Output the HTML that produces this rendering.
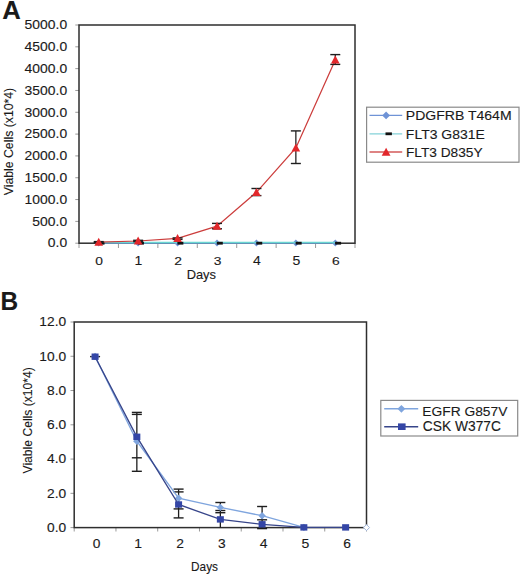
<!DOCTYPE html><html><head><meta charset="utf-8"><style>html,body{margin:0;padding:0;background:#fff;overflow:hidden}svg{display:block}text{font-family:"Liberation Sans", sans-serif;fill:#1a1a1a;stroke:#1a1a1a;stroke-width:0.12px}</style></head><body>
<svg width="520" height="574" viewBox="0 0 520 574">
<rect x="0" y="0" width="520" height="574" fill="#fff"/>
<text x="2.16" y="18.60" font-size="25.07" font-weight="bold" textLength="18.54" lengthAdjust="spacingAndGlyphs">A</text>
<text x="0.41" y="309.70" font-size="25.51" font-weight="bold" textLength="17.64" lengthAdjust="spacingAndGlyphs">B</text>
<line x1="75.3" y1="243.20" x2="79.0" y2="243.20" stroke="#9a9a9a" stroke-width="1"/>
<line x1="75.3" y1="221.38" x2="79.0" y2="221.38" stroke="#9a9a9a" stroke-width="1"/>
<line x1="75.3" y1="199.56" x2="79.0" y2="199.56" stroke="#9a9a9a" stroke-width="1"/>
<line x1="75.3" y1="177.74" x2="79.0" y2="177.74" stroke="#9a9a9a" stroke-width="1"/>
<line x1="75.3" y1="155.92" x2="79.0" y2="155.92" stroke="#9a9a9a" stroke-width="1"/>
<line x1="75.3" y1="134.10" x2="79.0" y2="134.10" stroke="#9a9a9a" stroke-width="1"/>
<line x1="75.3" y1="112.28" x2="79.0" y2="112.28" stroke="#9a9a9a" stroke-width="1"/>
<line x1="75.3" y1="90.46" x2="79.0" y2="90.46" stroke="#9a9a9a" stroke-width="1"/>
<line x1="75.3" y1="68.64" x2="79.0" y2="68.64" stroke="#9a9a9a" stroke-width="1"/>
<line x1="75.3" y1="46.82" x2="79.0" y2="46.82" stroke="#9a9a9a" stroke-width="1"/>
<line x1="75.3" y1="25.00" x2="79.0" y2="25.00" stroke="#9a9a9a" stroke-width="1"/>
<line x1="79.00" y1="243.2" x2="79.00" y2="248" stroke="#9a9a9a" stroke-width="1"/>
<line x1="118.43" y1="243.2" x2="118.43" y2="248" stroke="#9a9a9a" stroke-width="1"/>
<line x1="157.86" y1="243.2" x2="157.86" y2="248" stroke="#9a9a9a" stroke-width="1"/>
<line x1="197.29" y1="243.2" x2="197.29" y2="248" stroke="#9a9a9a" stroke-width="1"/>
<line x1="236.71" y1="243.2" x2="236.71" y2="248" stroke="#9a9a9a" stroke-width="1"/>
<line x1="276.14" y1="243.2" x2="276.14" y2="248" stroke="#9a9a9a" stroke-width="1"/>
<line x1="315.57" y1="243.2" x2="315.57" y2="248" stroke="#9a9a9a" stroke-width="1"/>
<line x1="355.00" y1="243.2" x2="355.00" y2="248" stroke="#9a9a9a" stroke-width="1"/>
<rect x="79.0" y="25.0" width="276.0" height="218.2" fill="none" stroke="#2e2e2e" stroke-width="1.5"/>
<text x="47.82" y="247.47" font-size="12.20" textLength="19.33" lengthAdjust="spacingAndGlyphs">0.0</text>
<text x="32.39" y="225.65" font-size="12.20" textLength="34.80" lengthAdjust="spacingAndGlyphs">500.0</text>
<text x="24.60" y="203.83" font-size="12.20" textLength="42.54" lengthAdjust="spacingAndGlyphs">1000.0</text>
<text x="24.60" y="182.01" font-size="12.20" textLength="42.54" lengthAdjust="spacingAndGlyphs">1500.0</text>
<text x="24.60" y="160.19" font-size="12.20" textLength="42.54" lengthAdjust="spacingAndGlyphs">2000.0</text>
<text x="24.60" y="138.37" font-size="12.20" textLength="42.54" lengthAdjust="spacingAndGlyphs">2500.0</text>
<text x="24.60" y="116.55" font-size="12.20" textLength="42.54" lengthAdjust="spacingAndGlyphs">3000.0</text>
<text x="24.60" y="94.73" font-size="12.20" textLength="42.54" lengthAdjust="spacingAndGlyphs">3500.0</text>
<text x="24.60" y="72.91" font-size="12.20" textLength="42.54" lengthAdjust="spacingAndGlyphs">4000.0</text>
<text x="24.60" y="51.09" font-size="12.20" textLength="42.54" lengthAdjust="spacingAndGlyphs">4500.0</text>
<text x="24.60" y="29.27" font-size="12.20" textLength="42.54" lengthAdjust="spacingAndGlyphs">5000.0</text>
<text x="95.38" y="265.20" font-size="11.71" textLength="7.69" lengthAdjust="spacingAndGlyphs">0</text>
<text x="134.58" y="265.20" font-size="11.88" textLength="7.80" lengthAdjust="spacingAndGlyphs">1</text>
<text x="174.24" y="265.20" font-size="11.71" textLength="7.69" lengthAdjust="spacingAndGlyphs">2</text>
<text x="213.70" y="265.20" font-size="11.71" textLength="7.69" lengthAdjust="spacingAndGlyphs">3</text>
<text x="253.07" y="265.20" font-size="11.88" textLength="7.80" lengthAdjust="spacingAndGlyphs">4</text>
<text x="292.47" y="265.20" font-size="11.88" textLength="7.80" lengthAdjust="spacingAndGlyphs">5</text>
<text x="331.92" y="265.20" font-size="11.71" textLength="7.69" lengthAdjust="spacingAndGlyphs">6</text>
<text x="186.67" y="278.80" font-size="12.75" textLength="29.36" lengthAdjust="spacingAndGlyphs">Days</text>
<text transform="translate(13.30,195.20) rotate(-90)" x="-0.06" y="0" font-size="13.00" textLength="107.45" lengthAdjust="spacingAndGlyphs">Viable Cells (x10*4)</text>
<line x1="70.5" y1="527.60" x2="74.2" y2="527.60" stroke="#9a9a9a" stroke-width="1"/>
<line x1="70.5" y1="493.33" x2="74.2" y2="493.33" stroke="#9a9a9a" stroke-width="1"/>
<line x1="70.5" y1="459.07" x2="74.2" y2="459.07" stroke="#9a9a9a" stroke-width="1"/>
<line x1="70.5" y1="424.80" x2="74.2" y2="424.80" stroke="#9a9a9a" stroke-width="1"/>
<line x1="70.5" y1="390.53" x2="74.2" y2="390.53" stroke="#9a9a9a" stroke-width="1"/>
<line x1="70.5" y1="356.27" x2="74.2" y2="356.27" stroke="#9a9a9a" stroke-width="1"/>
<line x1="70.5" y1="322.00" x2="74.2" y2="322.00" stroke="#9a9a9a" stroke-width="1"/>
<line x1="74.20" y1="527.6" x2="74.20" y2="531.5" stroke="#9a9a9a" stroke-width="1"/>
<line x1="115.96" y1="527.6" x2="115.96" y2="531.5" stroke="#9a9a9a" stroke-width="1"/>
<line x1="157.71" y1="527.6" x2="157.71" y2="531.5" stroke="#9a9a9a" stroke-width="1"/>
<line x1="199.47" y1="527.6" x2="199.47" y2="531.5" stroke="#9a9a9a" stroke-width="1"/>
<line x1="241.23" y1="527.6" x2="241.23" y2="531.5" stroke="#9a9a9a" stroke-width="1"/>
<line x1="282.99" y1="527.6" x2="282.99" y2="531.5" stroke="#9a9a9a" stroke-width="1"/>
<line x1="324.74" y1="527.6" x2="324.74" y2="531.5" stroke="#9a9a9a" stroke-width="1"/>
<line x1="366.50" y1="527.6" x2="366.50" y2="531.5" stroke="#9a9a9a" stroke-width="1"/>
<rect x="74.2" y="322.0" width="292.3" height="205.6" fill="none" stroke="#2e2e2e" stroke-width="1.5"/>
<text x="46.99" y="531.87" font-size="12.20" textLength="19.16" lengthAdjust="spacingAndGlyphs">0.0</text>
<text x="46.99" y="497.60" font-size="12.20" textLength="19.16" lengthAdjust="spacingAndGlyphs">2.0</text>
<text x="46.99" y="463.34" font-size="12.20" textLength="19.16" lengthAdjust="spacingAndGlyphs">4.0</text>
<text x="46.99" y="429.07" font-size="12.20" textLength="19.16" lengthAdjust="spacingAndGlyphs">6.0</text>
<text x="46.99" y="394.80" font-size="12.20" textLength="19.16" lengthAdjust="spacingAndGlyphs">8.0</text>
<text x="39.34" y="360.54" font-size="12.20" textLength="26.83" lengthAdjust="spacingAndGlyphs">10.0</text>
<text x="39.34" y="326.27" font-size="12.20" textLength="26.83" lengthAdjust="spacingAndGlyphs">12.0</text>
<text x="92.75" y="547.80" font-size="12.00" textLength="7.68" lengthAdjust="spacingAndGlyphs">0</text>
<text x="134.28" y="547.80" font-size="12.17" textLength="7.79" lengthAdjust="spacingAndGlyphs">1</text>
<text x="176.26" y="547.80" font-size="12.00" textLength="7.68" lengthAdjust="spacingAndGlyphs">2</text>
<text x="218.06" y="547.80" font-size="12.00" textLength="7.68" lengthAdjust="spacingAndGlyphs">3</text>
<text x="259.76" y="547.80" font-size="12.17" textLength="7.79" lengthAdjust="spacingAndGlyphs">4</text>
<text x="301.48" y="547.80" font-size="12.17" textLength="7.79" lengthAdjust="spacingAndGlyphs">5</text>
<text x="343.26" y="547.80" font-size="12.00" textLength="7.68" lengthAdjust="spacingAndGlyphs">6</text>
<text x="191.05" y="571.10" font-size="12.46" textLength="26.94" lengthAdjust="spacingAndGlyphs">Days</text>
<text transform="translate(32.30,473.40) rotate(-90)" x="-0.06" y="0" font-size="12.40" textLength="106.24" lengthAdjust="spacingAndGlyphs">Viable Cells (x10*4)</text>
<polyline points="98.71,243.00 138.14,243.00 177.57,243.00 217.00,243.00 256.43,243.00 295.86,243.00 335.29,243.00" fill="none" stroke="#6f93d6" stroke-width="1.3"/>
<path d="M98.71 239.60L102.11 243.00L98.71 246.40L95.31 243.00Z" fill="#6f93d6" stroke="none" stroke-width="0"/>
<path d="M138.14 239.60L141.54 243.00L138.14 246.40L134.74 243.00Z" fill="#6f93d6" stroke="none" stroke-width="0"/>
<path d="M177.57 239.60L180.97 243.00L177.57 246.40L174.17 243.00Z" fill="#6f93d6" stroke="none" stroke-width="0"/>
<path d="M217.00 239.60L220.40 243.00L217.00 246.40L213.60 243.00Z" fill="#6f93d6" stroke="none" stroke-width="0"/>
<path d="M256.43 239.60L259.83 243.00L256.43 246.40L253.03 243.00Z" fill="#6f93d6" stroke="none" stroke-width="0"/>
<path d="M295.86 239.60L299.26 243.00L295.86 246.40L292.46 243.00Z" fill="#6f93d6" stroke="none" stroke-width="0"/>
<path d="M335.29 239.60L338.69 243.00L335.29 246.40L331.89 243.00Z" fill="#6f93d6" stroke="none" stroke-width="0"/>
<polyline points="98.71,242.50 138.14,242.50 177.57,242.50 217.00,242.50 256.43,242.50 295.86,242.50 335.29,242.50" fill="none" stroke="#6ad6d2" stroke-width="1.7"/>
<rect x="98.51" y="241.8" width="6" height="2.8" fill="#111"/>
<rect x="137.94" y="241.8" width="6" height="2.8" fill="#111"/>
<rect x="177.37" y="241.8" width="6" height="2.8" fill="#111"/>
<rect x="216.80" y="241.8" width="6" height="2.8" fill="#111"/>
<rect x="256.23" y="241.8" width="6" height="2.8" fill="#111"/>
<rect x="295.66" y="241.8" width="6" height="2.8" fill="#111"/>
<rect x="335.09" y="241.8" width="6" height="2.8" fill="#111"/>
<polyline points="98.71,242.10 138.14,241.00 177.57,238.40 217.00,226.20 256.43,192.30 295.86,147.90 335.29,60.00" fill="none" stroke="#cc3d3c" stroke-width="1.25"/>
<line x1="98.71" y1="241.60" x2="98.71" y2="242.60" stroke="#1e1e1e" stroke-width="1.25"/>
<line x1="93.71" y1="241.60" x2="103.71" y2="241.60" stroke="#1e1e1e" stroke-width="1.4"/>
<line x1="93.71" y1="242.60" x2="103.71" y2="242.60" stroke="#1e1e1e" stroke-width="1.4"/>
<line x1="138.14" y1="240.30" x2="138.14" y2="241.70" stroke="#1e1e1e" stroke-width="1.25"/>
<line x1="133.14" y1="240.30" x2="143.14" y2="240.30" stroke="#1e1e1e" stroke-width="1.4"/>
<line x1="133.14" y1="241.70" x2="143.14" y2="241.70" stroke="#1e1e1e" stroke-width="1.4"/>
<line x1="177.57" y1="237.90" x2="177.57" y2="239.40" stroke="#1e1e1e" stroke-width="1.25"/>
<line x1="172.57" y1="237.90" x2="182.57" y2="237.90" stroke="#1e1e1e" stroke-width="1.4"/>
<line x1="172.57" y1="239.40" x2="182.57" y2="239.40" stroke="#1e1e1e" stroke-width="1.4"/>
<line x1="217.00" y1="223.40" x2="217.00" y2="228.80" stroke="#1e1e1e" stroke-width="1.25"/>
<line x1="212.00" y1="223.40" x2="222.00" y2="223.40" stroke="#1e1e1e" stroke-width="1.4"/>
<line x1="212.00" y1="228.80" x2="222.00" y2="228.80" stroke="#1e1e1e" stroke-width="1.4"/>
<line x1="256.43" y1="188.50" x2="256.43" y2="195.60" stroke="#1e1e1e" stroke-width="1.25"/>
<line x1="251.43" y1="188.50" x2="261.43" y2="188.50" stroke="#1e1e1e" stroke-width="1.4"/>
<line x1="251.43" y1="195.60" x2="261.43" y2="195.60" stroke="#1e1e1e" stroke-width="1.4"/>
<line x1="295.86" y1="130.90" x2="295.86" y2="163.50" stroke="#1e1e1e" stroke-width="1.25"/>
<line x1="290.86" y1="130.90" x2="300.86" y2="130.90" stroke="#1e1e1e" stroke-width="1.4"/>
<line x1="290.86" y1="163.50" x2="300.86" y2="163.50" stroke="#1e1e1e" stroke-width="1.4"/>
<line x1="335.29" y1="54.60" x2="335.29" y2="64.40" stroke="#1e1e1e" stroke-width="1.25"/>
<line x1="330.29" y1="54.60" x2="340.29" y2="54.60" stroke="#1e1e1e" stroke-width="1.4"/>
<line x1="330.29" y1="64.40" x2="340.29" y2="64.40" stroke="#1e1e1e" stroke-width="1.4"/>
<path d="M98.71 237.70L103.01 245.70L94.41 245.70Z" fill="#e2272b"/>
<path d="M138.14 236.60L142.44 244.60L133.84 244.60Z" fill="#e2272b"/>
<path d="M177.57 234.00L181.87 242.00L173.27 242.00Z" fill="#e2272b"/>
<path d="M217.00 221.80L221.30 229.80L212.70 229.80Z" fill="#e2272b"/>
<path d="M256.43 187.90L260.73 195.90L252.13 195.90Z" fill="#e2272b"/>
<path d="M295.86 143.50L300.16 151.50L291.56 151.50Z" fill="#e2272b"/>
<path d="M335.29 55.60L339.59 63.60L330.99 63.60Z" fill="#e2272b"/>
<rect x="366.6" y="107.2" width="152.4" height="55" fill="#fff" stroke="#8a8a8a" stroke-width="1.2"/>
<line x1="369.5" y1="115.4" x2="402.2" y2="115.4" stroke="#6f93d6" stroke-width="1.3"/>
<path d="M386.10 111.50L390.00 115.40L386.10 119.30L382.20 115.40Z" fill="#6f93d6" stroke="none" stroke-width="0"/>
<line x1="369.5" y1="133.8" x2="402.2" y2="133.8" stroke="#84d2d8" stroke-width="1.3"/>
<rect x="385.5" y="132.4" width="6.4" height="2.8" fill="#111"/>
<line x1="369.5" y1="152.1" x2="402.2" y2="152.1" stroke="#d35a5a" stroke-width="1.5"/>
<path d="M386.10 147.70L390.50 155.70L381.70 155.70Z" fill="#e2272b"/>
<text x="405.88" y="120.30" font-size="12.57" textLength="105.70" lengthAdjust="spacingAndGlyphs">PDGFRB T464M</text>
<text x="405.88" y="138.60" font-size="12.43" textLength="78.89" lengthAdjust="spacingAndGlyphs">FLT3 G831E</text>
<text x="405.90" y="156.90" font-size="12.43" textLength="76.78" lengthAdjust="spacingAndGlyphs">FLT3 D835Y</text>
<line x1="95.08" y1="356.60" x2="95.08" y2="356.60" stroke="#1e1e1e" stroke-width="1.3"/>
<line x1="90.08" y1="356.60" x2="100.08" y2="356.60" stroke="#1e1e1e" stroke-width="1.4"/>
<line x1="136.84" y1="412.40" x2="136.84" y2="471.30" stroke="#1e1e1e" stroke-width="1.3"/>
<line x1="131.84" y1="412.40" x2="141.84" y2="412.40" stroke="#1e1e1e" stroke-width="1.4"/>
<line x1="131.84" y1="414.40" x2="141.84" y2="414.40" stroke="#1e1e1e" stroke-width="1.4"/>
<line x1="131.84" y1="457.80" x2="141.84" y2="457.80" stroke="#1e1e1e" stroke-width="1.4"/>
<line x1="131.84" y1="471.30" x2="141.84" y2="471.30" stroke="#1e1e1e" stroke-width="1.4"/>
<line x1="178.59" y1="489.10" x2="178.59" y2="517.90" stroke="#1e1e1e" stroke-width="1.3"/>
<line x1="173.59" y1="489.10" x2="183.59" y2="489.10" stroke="#1e1e1e" stroke-width="1.4"/>
<line x1="173.59" y1="491.90" x2="183.59" y2="491.90" stroke="#1e1e1e" stroke-width="1.4"/>
<line x1="173.59" y1="508.90" x2="183.59" y2="508.90" stroke="#1e1e1e" stroke-width="1.4"/>
<line x1="173.59" y1="517.90" x2="183.59" y2="517.90" stroke="#1e1e1e" stroke-width="1.4"/>
<line x1="220.35" y1="502.50" x2="220.35" y2="527.60" stroke="#1e1e1e" stroke-width="1.3"/>
<line x1="215.35" y1="502.50" x2="225.35" y2="502.50" stroke="#1e1e1e" stroke-width="1.4"/>
<line x1="215.35" y1="510.50" x2="225.35" y2="510.50" stroke="#1e1e1e" stroke-width="1.4"/>
<line x1="215.35" y1="512.70" x2="225.35" y2="512.70" stroke="#1e1e1e" stroke-width="1.4"/>
<line x1="262.11" y1="506.50" x2="262.11" y2="527.60" stroke="#1e1e1e" stroke-width="1.3"/>
<line x1="257.11" y1="506.50" x2="267.11" y2="506.50" stroke="#1e1e1e" stroke-width="1.4"/>
<line x1="257.11" y1="519.80" x2="267.11" y2="519.80" stroke="#1e1e1e" stroke-width="1.4"/>
<line x1="257.11" y1="528.60" x2="267.11" y2="528.60" stroke="#1e1e1e" stroke-width="1.4"/>
<polyline points="95.08,356.50 136.84,441.20 178.59,498.20 220.35,507.40 262.11,515.70 303.86,527.40" fill="none" stroke="#7fa5de" stroke-width="1.35"/>
<path d="M95.08 352.80L98.78 356.50L95.08 360.20L91.38 356.50Z" fill="#7fa5de" stroke="none" stroke-width="0"/>
<path d="M136.84 437.50L140.54 441.20L136.84 444.90L133.14 441.20Z" fill="#7fa5de" stroke="none" stroke-width="0"/>
<path d="M178.59 494.50L182.29 498.20L178.59 501.90L174.89 498.20Z" fill="#7fa5de" stroke="none" stroke-width="0"/>
<path d="M220.35 503.70L224.05 507.40L220.35 511.10L216.65 507.40Z" fill="#7fa5de" stroke="none" stroke-width="0"/>
<path d="M262.11 512.00L265.81 515.70L262.11 519.40L258.41 515.70Z" fill="#7fa5de" stroke="none" stroke-width="0"/>
<path d="M303.86 523.70L307.56 527.40L303.86 531.10L300.16 527.40Z" fill="#7fa5de" stroke="none" stroke-width="0"/>
<polyline points="95.08,356.70 136.84,436.80 178.59,504.50 220.35,519.40 262.11,524.30 303.86,527.40 345.62,527.40" fill="none" stroke="#37458a" stroke-width="1.35"/>
<rect x="91.58" y="353.50" width="7.00" height="6.40" fill="#3446a6"/>
<rect x="133.34" y="433.60" width="7.00" height="6.40" fill="#3446a6"/>
<rect x="175.09" y="501.30" width="7.00" height="6.40" fill="#3446a6"/>
<rect x="216.85" y="516.20" width="7.00" height="6.40" fill="#3446a6"/>
<rect x="258.61" y="521.10" width="7.00" height="6.40" fill="#3446a6"/>
<rect x="300.36" y="524.20" width="7.00" height="6.40" fill="#3446a6"/>
<rect x="342.12" y="524.20" width="7.00" height="6.40" fill="#3446a6"/>
<path d="M366.50 524.60L369.50 527.60L366.50 530.60L363.50 527.60Z" fill="#fff" stroke="#9fb6dc" stroke-width="1"/>
<rect x="380.8" y="400.4" width="136.9" height="35.6" fill="#fff" stroke="#8a8a8a" stroke-width="1.2"/>
<line x1="384.2" y1="408.8" x2="418.2" y2="408.8" stroke="#7fa5de" stroke-width="1.6"/>
<path d="M401.40 404.90L405.30 408.80L401.40 412.70L397.50 408.80Z" fill="#7fa5de" stroke="none" stroke-width="0"/>
<line x1="384.2" y1="426.7" x2="418.2" y2="426.7" stroke="#37458a" stroke-width="1.5"/>
<rect x="398.00" y="423.40" width="7.60" height="6.60" fill="#3446a6"/>
<text x="422.30" y="416.20" font-size="13.29" textLength="85.03" lengthAdjust="spacingAndGlyphs">EGFR G857V</text>
<text x="422.71" y="431.30" font-size="14.14" textLength="78.29" lengthAdjust="spacingAndGlyphs">CSK W377C</text>
</svg></body></html>
